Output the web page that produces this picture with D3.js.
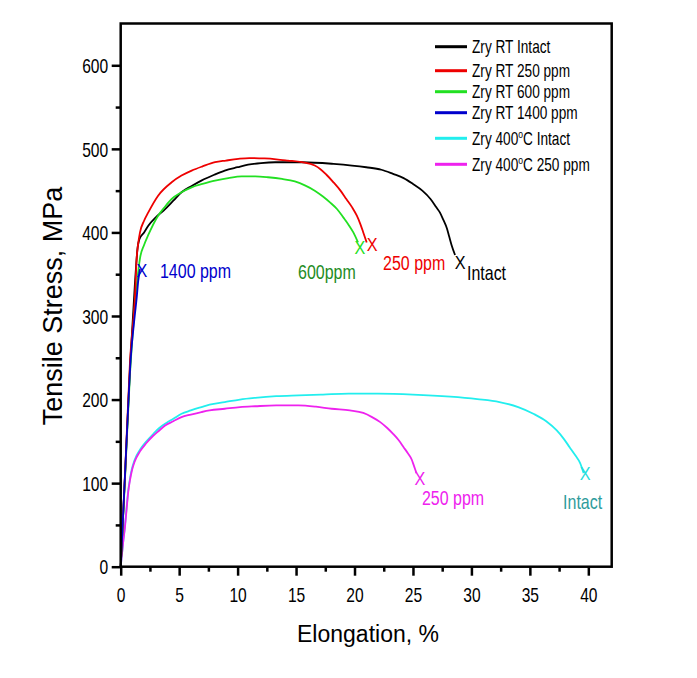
<!DOCTYPE html>
<html>
<head>
<meta charset="utf-8">
<script src="https://cdn.jsdelivr.net/npm/d3@7"></script>
<style>
  html, body { margin: 0; padding: 0; background: #fff; }
  svg { display: block; }
  text { font-family: "Liberation Sans", Arial, sans-serif; }
</style>
</head>
<body>
<svg id="chart" width="697" height="678"></svg>
<script>
// ---------------- DATA ----------------
const seriesNames = ["Zry RT Intact", "Zry RT 250 ppm", "Zry RT 600 ppm", "Zry RT 1400 ppm", "Zry 400°C Intact", "Zry 400°C 250 ppm"];
const seriesColors = ["#000000", "#ee0000", "#22e022", "#0000cc", "#22eeee", "#ee22ee"];

const rtIntact = [[0,0],[0.4,118],[0.8,240],[1.2,335],[1.45,382],[1.6,392],[2.0,400],[2.36,408],[3.0,418],[3.8,428],[4.5,438],[5.2,448],[6.0,455],[6.9,462],[8.0,469],[8.9,474],[10.0,478],[10.9,481],[12.0,483],[13.2,484],[15.5,484],[18.2,482],[21.0,478],[22.3,475],[23.3,470],[24.2,465],[25.0,458],[25.8,450],[26.5,440],[27.0,430],[27.3,424],[27.6,415],[27.9,405],[28.1,395],[28.3,385],[28.6,373]];
const rt250 = [[0,0],[0.4,120],[0.8,247],[1.22,323],[1.37,370],[1.5,387],[1.65,400],[2.0,414],[2.36,424],[3.2,444],[4.36,460],[5.2,468],[6.07,474],[7.0,479],[8.07,484],[9.0,486],[10.06,488],[11.0,489],[12.3,488.5],[13.3,487.5],[14.3,486],[15.5,484],[16.6,480],[17.06,476],[17.6,469],[18.2,460],[18.8,450],[19.3,440],[19.8,430],[20.2,420],[20.5,410],[20.75,400],[21.04,388]];
const rt600 = [[0,0],[0.4,115],[0.8,232],[1.2,310],[1.4,340],[1.65,369],[2.0,385],[2.36,397],[3.2,420],[3.8,431],[4.36,440],[5.2,448],[6.07,454],[7.0,458],[8.07,462],[9.2,465],[10.35,467],[11.5,467],[12.6,466],[13.8,464],[14.9,461],[15.8,456],[16.6,450],[17.3,443],[17.9,436],[18.5,428],[19.04,418],[19.5,409],[19.9,400],[20.3,388]];
const rt1400 = [[0,0],[0.5,150],[0.85,247],[1.2,300],[1.37,322],[1.5,342],[1.65,356]];
const hotIntact = [[0,0],[0.2,28],[0.37,50],[0.5,70],[0.65,92],[0.8,106],[0.94,116],[1.2,128],[1.65,140],[2.2,150],[2.8,159],[3.3,166],[3.9,172],[4.5,177],[5.2,183],[6.0,187],[6.9,191],[7.6,194],[8.9,197],[10.2,200],[11.5,202],[13.3,204],[15.2,205],[17.3,206],[19.5,207],[22,207],[25,206],[28.2,203.5],[30.5,200.5],[32.4,197],[34,191],[35.3,183],[36.4,174],[37.3,163],[37.9,153],[38.4,143],[38.9,133],[39.3,124],[39.6,112]];
const hot250 = [[0,0],[0.2,28],[0.37,48],[0.5,68],[0.65,90],[0.8,104],[0.94,114],[1.2,126],[1.65,138],[2.2,148],[2.8,157],[3.3,163],[3.8,169],[4.5,174],[5.2,179],[6.0,182],[6.9,185],[7.6,187],[8.9,189],[10.2,191],[11.5,192],[13.3,193],[15.2,193],[16.7,191.5],[18.05,189],[19.6,187],[20.75,184],[21.5,179],[22.2,173],[22.8,166],[23.3,159],[23.8,151],[24.2,143],[24.6,135],[24.9,128],[25.1,120],[25.3,112]];
const seriesValues = [rtIntact, rt250, rt600, rt1400, hotIntact, hot250];

// fracture marks (X) and labels, in data units
const fractureMarks = [[29.03,364,"#000000"],[21.5,385,"#ee0000"],[20.47,382,"#22e022"],[1.82,355,"#0000cc"],[39.72,112,"#22dddd"],[25.6,106,"#ee22ee"]];
const fractureLabels = [["1400 ppm",3.36,346,"#0000cc"],["600ppm",15.17,344,"#1e8c1e"],["250 ppm",22.44,355,"#ee0000"],["Intact",29.62,343,"#000000"],["250 ppm",25.77,74,"#ee22ee"],["Intact",37.84,69,"#2e9c9c"]];

const xMajorTicks = [0,5,10,15,20,25,30,35,40];
const xMinorTicks = [2.5,7.5,12.5,17.5,22.5,27.5,32.5,37.5];
const yMajorTicks = [0,100,200,300,400,500,600];
const yMinorTicks = [50,150,250,350,450,550];
const xTitle = "Elongation, %";
const yTitle = "Tensile Stress, MPa";

// ---------------- LAYOUT ----------------
const svg = d3.select("#chart");
const L = 120.7, R = 611.7, T = 23.5, B = 566.7;
const x = d3.scaleLinear().domain([0, 42]).range([L, R]);
const y = d3.scaleLinear().domain([0, 650]).range([B, T]);
const SX = 0.78; // horizontal condensation of glyphs

// curves
const line = d3.line().x(d => x(d[0])).y(d => y(d[1])).curve(d3.curveMonotoneX);
[4,5,0,2,1,3].forEach(i => {
  svg.append("path").datum(seriesValues[i])
    .attr("d", line).attr("fill", "none")
    .attr("stroke", seriesColors[i]).attr("stroke-width", 1.8)
    .attr("stroke-linejoin", "round");
});

// frame
svg.append("rect").attr("x", L).attr("y", T).attr("width", R - L).attr("height", B - T)
  .attr("fill", "none").attr("stroke", "#000").attr("stroke-width", 2.5);

// axes
function styleAxis(g) {
  g.select(".domain").remove();
  g.selectAll(".tick line").attr("stroke", "#000").attr("stroke-width", 2.5);
}
const gx = svg.append("g").attr("transform", `translate(0,${B})`)
  .call(d3.axisBottom(x).tickValues(xMajorTicks).tickSize(9).tickSizeOuter(0).tickFormat(d3.format("d")));
styleAxis(gx);
gx.selectAll(".tick text").attr("font-size", 20).attr("fill", "#000")
  .attr("font-family", "Liberation Sans, Arial, sans-serif")
  .attr("y", 0).attr("dy", null)
  .attr("transform", `translate(0,35.5) scale(${SX},1)`);
const gxm = svg.append("g").attr("transform", `translate(0,${B})`)
  .call(d3.axisBottom(x).tickValues(xMinorTicks).tickSize(5).tickSizeOuter(0).tickFormat(""));
styleAxis(gxm);

const gy = svg.append("g").attr("transform", `translate(${L},0)`)
  .call(d3.axisLeft(y).tickValues(yMajorTicks).tickSize(9).tickSizeOuter(0).tickFormat(d3.format("d")));
styleAxis(gy);
gy.selectAll(".tick text").attr("font-size", 20).attr("fill", "#000")
  .attr("font-family", "Liberation Sans, Arial, sans-serif")
  .attr("x", 0).attr("dy", "0.36em")
  .attr("transform", `translate(-12.5,0) scale(${SX},1)`);
const gym = svg.append("g").attr("transform", `translate(${L},0)`)
  .call(d3.axisLeft(y).tickValues(yMinorTicks).tickSize(5).tickSizeOuter(0).tickFormat(""));
styleAxis(gym);

// axis titles
svg.append("text").attr("transform", `translate(368,642)`)
  .attr("text-anchor", "middle").attr("font-size", 23).text(xTitle);
svg.append("text").attr("transform", `translate(62,306) rotate(-90)`)
  .attr("text-anchor", "middle").attr("font-size", 27).text(yTitle);

// legend
const legendRowY = [46.7, 70.7, 91.7, 112.7, 138.3, 164.3];
const lg = svg.append("g");
seriesNames.forEach((name, i) => {
  const yy = legendRowY[i];
  lg.append("line").attr("x1", 435).attr("x2", 467).attr("y1", yy).attr("y2", yy)
    .attr("stroke", seriesColors[i]).attr("stroke-width", 3);
  const t = lg.append("text").attr("transform", `translate(472,${yy + 6.3}) scale(${SX},1)`)
    .attr("font-size", 17.5).attr("fill", "#000");
  const parts = name.split("°");
  if (parts.length === 1) {
    t.text(name);
  } else {
    t.append("tspan").text(parts[0]);
    t.append("tspan").attr("dy", -7).attr("font-size", 11).text("o");
    t.append("tspan").attr("dy", 7).text(parts[1]);
  }
});

// fracture marks
fractureMarks.forEach(m => {
  svg.append("text").attr("transform", `translate(${x(m[0])},${y(m[1]) + 6.5}) scale(0.9,1)`)
    .attr("text-anchor", "middle").attr("font-size", 18).attr("fill", m[2]).text("X");
});
fractureLabels.forEach(l => {
  svg.append("text").attr("transform", `translate(${x(l[1])},${y(l[2])}) scale(${SX},1)`)
    .attr("font-size", 20.5).attr("fill", l[3]).text(l[0]);
});
</script>
</body>
</html>
